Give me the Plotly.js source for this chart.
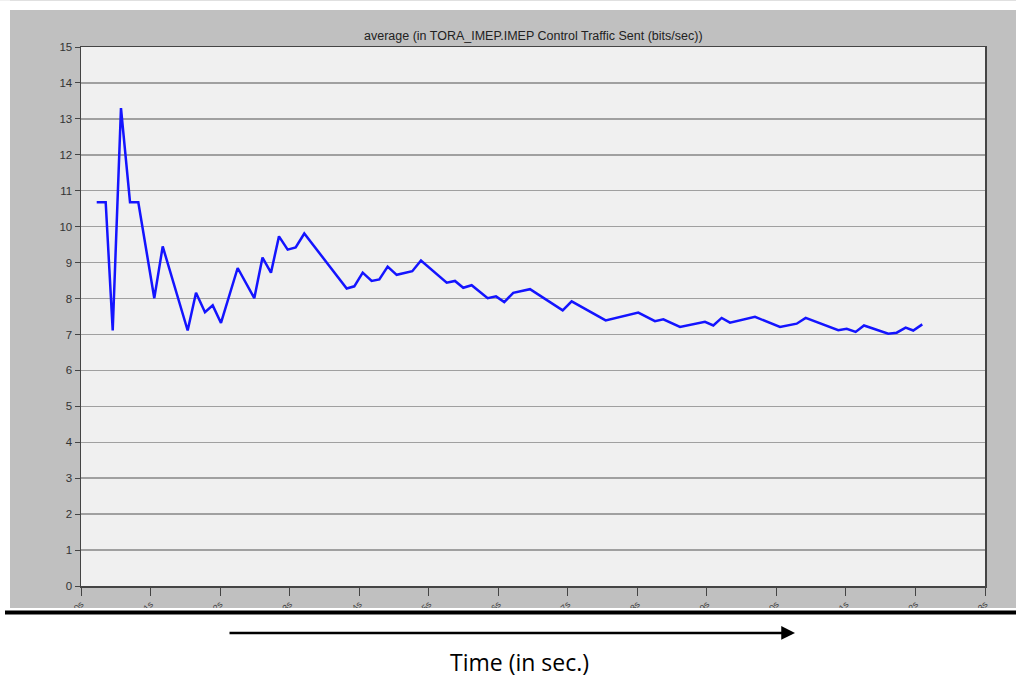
<!DOCTYPE html>
<html>
<head>
<meta charset="utf-8">
<script src="https://cdn.plot.ly/plotly-3.0.1.min.js"></script>
<style>
html,body{margin:0;padding:0;background:#fff;}
#chart{width:1016px;height:678px;}
</style>
</head>
<body>
<div id="chart"></div>
<script>
// Time (in x-axis tick units) and average IMEP control traffic sent (bits/sec)
const timeValues = [0.226,0.355,0.456,0.575,0.705,0.824,1.054,1.175,1.534,1.654,1.783,1.894,2.013,2.253,2.492,2.610,2.732,2.847,2.972,3.087,3.211,3.821,3.930,4.051,4.180,4.290,4.410,4.540,4.764,4.889,5.259,5.378,5.497,5.618,5.848,5.968,6.087,6.216,6.457,6.927,7.056,7.545,8.014,8.254,8.374,8.614,8.973,9.093,9.213,9.333,9.692,10.052,10.292,10.421,10.890,11.011,11.140,11.260,11.609,11.730,11.859,11.968,12.098];
const trafficValues = [10.68,10.68,7.11,13.30,10.68,10.68,8.01,9.45,7.11,8.16,7.62,7.81,7.32,8.85,8.01,9.14,8.72,9.73,9.36,9.42,9.81,8.28,8.34,8.72,8.49,8.53,8.89,8.66,8.76,9.06,8.44,8.49,8.30,8.37,8.01,8.06,7.90,8.16,8.26,7.67,7.92,7.39,7.61,7.37,7.42,7.21,7.35,7.25,7.46,7.33,7.49,7.21,7.30,7.46,7.12,7.16,7.07,7.25,7.02,7.05,7.19,7.11,7.28];
const xTickVals = [0,1,2,3,4,5,6,7,8,9,10,11,12,13];
const xTickText = ["0s","1s","2s","3s","4s","5s","6s","7s","8s","9s","10s","11s","12s","13s"];
const yTickVals = [0,1,2,3,4,5,6,7,8,9,10,11,12,13,14,15];
const chartTitle = "average (in TORA_IMEP.IMEP Control Traffic Sent (bits/sec))";
const xLabel = "Time (in sec.)";

const W = 1016, H = 678;
const L = 81, R = 985, T = 46.5, B = 586;
const pw = R - L, ph = B - T;
const px = v => (v - L) / pw;
const py = v => (B - v) / ph;

const trace = {
  x: timeValues, y: trafficValues, type: 'scatter', mode: 'lines',
  line: {color: '#1414ff', width: 2.5}, hoverinfo: 'skip'
};

const layout = {
  width: W, height: H,
  margin: {l: L, r: W - R, t: T, b: H - B, pad: 0},
  paper_bgcolor: '#c0c0c0',
  plot_bgcolor: '#f0f0f0',
  showlegend: false,
  font: {family: 'Liberation Sans, Arial, sans-serif', color: '#333'},
  xaxis: {
    range: [0, 13], tickvals: xTickVals, ticktext: xTickText,
    showgrid: false, zeroline: false, showline: true, mirror: true,
    linecolor: '#444', linewidth: 1.5,
    ticks: 'outside', ticklen: 8, tickcolor: '#444', tickwidth: 1,
    tickangle: -45, tickfont: {size: 9, color: '#444'}
  },
  yaxis: {
    range: [0, 15], tickvals: yTickVals,
    showgrid: true, gridcolor: '#a0a0a0', gridwidth: 1.5,
    zeroline: false, showline: true, mirror: true,
    linecolor: '#444', linewidth: 1.5,
    ticks: 'outside', ticklen: 5, tickcolor: '#444', tickwidth: 1,
    tickfont: {size: 11.5, color: '#333', family: 'Liberation Sans Narrow, Liberation Sans, Arial, sans-serif'}
  },
  shapes: [
    // white margins outside the grey panel
    {type: 'rect', xref: 'paper', yref: 'paper', layer: 'above', x0: px(0), x1: px(W), y0: py(0), y1: py(9.5), fillcolor: '#fff', line: {width: 0}},
    {type: 'rect', xref: 'paper', yref: 'paper', layer: 'above', x0: px(0), x1: px(10), y0: py(0), y1: py(H), fillcolor: '#fff', line: {width: 0}},
    {type: 'rect', xref: 'paper', yref: 'paper', layer: 'above', x0: px(0), x1: px(W), y0: py(608), y1: py(H), fillcolor: '#fff', line: {width: 0}},
    // thick black rule under the chart
    {type: 'line', xref: 'paper', yref: 'paper', layer: 'above', x0: px(5), x1: px(W), y0: py(612.5), y1: py(612.5), line: {color: '#000', width: 4}}
  ],
  annotations: [
    {text: chartTitle, xref: 'paper', yref: 'paper', x: px(533), y: py(35), xanchor: 'center', yanchor: 'middle', showarrow: false,
     font: {size: 12.5, color: '#222', family: 'Liberation Sans Narrow, Liberation Sans, Arial, sans-serif'}},
    {text: '', xref: 'paper', yref: 'paper', x: px(795), y: py(633), ax: -567, ay: 0,
     showarrow: true, arrowhead: 2, arrowsize: 1.1, arrowwidth: 2.5, arrowcolor: '#000'},
    {text: xLabel, xref: 'paper', yref: 'paper', x: px(519), y: py(662), xanchor: 'center', yanchor: 'middle', showarrow: false,
     font: {size: 23, color: '#000', family: 'Open Sans, Noto Sans, sans-serif'}}
  ]
};

Plotly.newPlot('chart', [trace], layout, {displayModeBar: false, staticPlot: true});
</script>
</body>
</html>
